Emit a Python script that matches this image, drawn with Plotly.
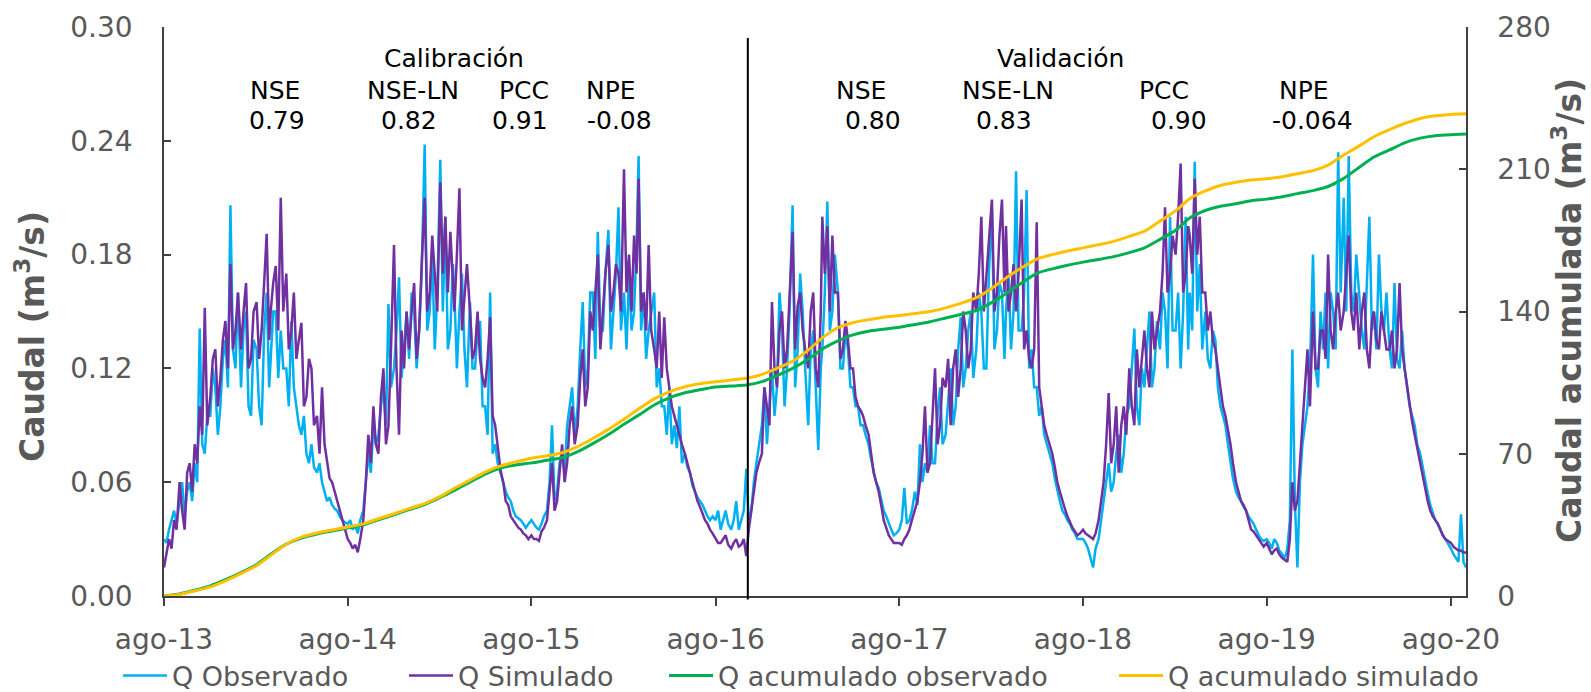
import plotly.graph_objects as go

# ---------------- data ----------------
# months Aug-2013 .. Aug-2020
months = [(2013 + (7 + i) // 12, (7 + i) % 12 + 1) for i in range(85)]
# flows read every 5 days (days 1, 6, 11, 16, 21, 26 of each month) + last day
q_dates = [f"{y}-{m:02d}-{d:02d}" for y, m in months for d in (1, 6, 11, 16, 21, 26)] + ["2020-08-31"]
cum_dates = [f"{y}-{m:02d}-01" for y, m in months] + ["2020-08-31"]

q_obs = [
    # 2013-14  (Aug .. Jul, one row per month)
    0.030, 0.028, 0.035, 0.040, 0.045, 0.038,
    0.050, 0.060, 0.042, 0.055, 0.060, 0.050,
    0.070, 0.060, 0.141, 0.080, 0.075, 0.095,
    0.095, 0.120, 0.110, 0.085, 0.100, 0.125,
    0.135, 0.110, 0.206, 0.130, 0.120, 0.160,
    0.110, 0.140, 0.150, 0.100, 0.095, 0.135,
    0.130, 0.100, 0.090, 0.140, 0.160, 0.110,
    0.125, 0.150, 0.150, 0.115, 0.140, 0.120,
    0.120, 0.100, 0.145, 0.110, 0.100, 0.090,
    0.085, 0.095, 0.075, 0.070, 0.080, 0.068,
    0.065, 0.070, 0.060, 0.055, 0.050, 0.052,
    0.048, 0.046, 0.045, 0.042, 0.040, 0.039,
    # 2014-15
    0.038, 0.040, 0.035, 0.037, 0.033, 0.040,
    0.045, 0.060, 0.075, 0.065, 0.090, 0.080,
    0.085, 0.100, 0.110, 0.090, 0.154, 0.110,
    0.120, 0.140, 0.168, 0.115, 0.130, 0.150,
    0.125, 0.160, 0.150, 0.120, 0.140, 0.170,
    0.238, 0.140, 0.150, 0.180, 0.130, 0.160,
    0.230, 0.150, 0.200, 0.130, 0.140, 0.175,
    0.160, 0.120, 0.150, 0.170, 0.130, 0.110,
    0.155, 0.120, 0.120, 0.140, 0.145, 0.100,
    0.100, 0.085, 0.160, 0.075, 0.080, 0.070,
    0.065, 0.060, 0.055, 0.052, 0.050, 0.045,
    0.042, 0.041, 0.040, 0.038, 0.036, 0.038,
    # 2015-16
    0.040, 0.038, 0.036, 0.035, 0.038, 0.042,
    0.045, 0.060, 0.090, 0.050, 0.055, 0.070,
    0.075, 0.065, 0.090, 0.100, 0.110, 0.085,
    0.100, 0.130, 0.155, 0.110, 0.120, 0.160,
    0.160, 0.125, 0.192, 0.140, 0.140, 0.170,
    0.193, 0.130, 0.150, 0.170, 0.205, 0.140,
    0.160, 0.130, 0.170, 0.140, 0.150, 0.185,
    0.232, 0.140, 0.160, 0.125, 0.140, 0.150,
    0.160, 0.110, 0.120, 0.100, 0.100, 0.085,
    0.110, 0.080, 0.090, 0.078, 0.100, 0.070,
    0.075, 0.068, 0.065, 0.058, 0.055, 0.052,
    0.050, 0.048, 0.045, 0.042, 0.040, 0.042,
    # 2016-17
    0.040, 0.045, 0.035, 0.040, 0.045, 0.038,
    0.035, 0.040, 0.050, 0.035, 0.040, 0.045,
    0.067, 0.040, 0.045, 0.060, 0.070, 0.080,
    0.090, 0.110, 0.080, 0.100, 0.120, 0.095,
    0.110, 0.160, 0.140, 0.100, 0.120, 0.150,
    0.206, 0.110, 0.130, 0.170, 0.150, 0.120,
    0.090, 0.130, 0.140, 0.110, 0.077, 0.120,
    0.130, 0.160, 0.208, 0.140, 0.150, 0.180,
    0.160, 0.120, 0.120, 0.140, 0.130, 0.110,
    0.110, 0.100, 0.100, 0.090, 0.090, 0.085,
    0.080, 0.072, 0.065, 0.060, 0.057, 0.050,
    0.045, 0.042, 0.038, 0.035, 0.032, 0.033,
    # 2017-18
    0.035, 0.040, 0.057, 0.038, 0.040, 0.045,
    0.055, 0.048, 0.080, 0.060, 0.070, 0.065,
    0.090, 0.070, 0.070, 0.095, 0.110, 0.080,
    0.085, 0.105, 0.120, 0.090, 0.100, 0.130,
    0.147, 0.110, 0.120, 0.140, 0.150, 0.115,
    0.130, 0.160, 0.150, 0.120, 0.120, 0.170,
    0.205, 0.130, 0.140, 0.165, 0.160, 0.125,
    0.150, 0.170, 0.130, 0.150, 0.224, 0.140,
    0.140, 0.160, 0.214, 0.120, 0.130, 0.110,
    0.110, 0.095, 0.100, 0.085, 0.080, 0.075,
    0.070, 0.062, 0.055, 0.050, 0.045, 0.043,
    0.040, 0.038, 0.035, 0.033, 0.030, 0.030,
    # 2018-19
    0.030, 0.028, 0.025, 0.020, 0.015, 0.025,
    0.030, 0.040, 0.050, 0.060, 0.070, 0.055,
    0.060, 0.075, 0.085, 0.065, 0.075, 0.095,
    0.100, 0.120, 0.141, 0.100, 0.090, 0.120,
    0.110, 0.130, 0.150, 0.110, 0.120, 0.145,
    0.130, 0.160, 0.150, 0.120, 0.200, 0.140,
    0.140, 0.160, 0.120, 0.150, 0.200, 0.130,
    0.160, 0.140, 0.229, 0.150, 0.175, 0.130,
    0.150, 0.125, 0.120, 0.140, 0.135, 0.110,
    0.100, 0.095, 0.090, 0.080, 0.070, 0.062,
    0.055, 0.052, 0.050, 0.047, 0.045, 0.042,
    0.040, 0.038, 0.035, 0.032, 0.030, 0.029,
    # 2019-20
    0.030, 0.028, 0.025, 0.030, 0.028, 0.024,
    0.022, 0.020, 0.025, 0.040, 0.130, 0.050,
    0.015, 0.060, 0.080, 0.090, 0.100, 0.120,
    0.180, 0.120, 0.110, 0.150, 0.130, 0.160,
    0.120, 0.160, 0.150, 0.130, 0.234, 0.160,
    0.210, 0.150, 0.232, 0.160, 0.150, 0.180,
    0.160, 0.140, 0.130, 0.170, 0.200, 0.140,
    0.150, 0.130, 0.180, 0.150, 0.140, 0.160,
    0.130, 0.120, 0.165, 0.125, 0.120, 0.140,
    0.120, 0.110, 0.100, 0.095, 0.090, 0.080,
    0.075, 0.068, 0.060, 0.054, 0.048, 0.044,
    0.040, 0.038, 0.035, 0.032, 0.030, 0.028,
    # Aug 2020
    0.025, 0.022, 0.020, 0.018, 0.043, 0.018, 0.015,
]

q_sim = [
    # 2013-14
    0.015, 0.022, 0.030, 0.025, 0.040, 0.035,
    0.060, 0.045, 0.035, 0.065, 0.070, 0.055,
    0.080, 0.070, 0.100, 0.085, 0.152, 0.090,
    0.105, 0.125, 0.130, 0.100, 0.115, 0.135,
    0.145, 0.120, 0.175, 0.130, 0.140, 0.160,
    0.130, 0.150, 0.165, 0.120, 0.125, 0.150,
    0.155, 0.125, 0.140, 0.165, 0.191, 0.135,
    0.150, 0.165, 0.174, 0.140, 0.210, 0.150,
    0.170, 0.130, 0.140, 0.160, 0.125, 0.135,
    0.144, 0.100, 0.105, 0.125, 0.120, 0.090,
    0.095, 0.075, 0.110, 0.080, 0.070, 0.062,
    0.060, 0.055, 0.050, 0.045, 0.040, 0.035,
    # 2014-15
    0.030, 0.028, 0.025, 0.027, 0.023, 0.030,
    0.040, 0.060, 0.085, 0.070, 0.100, 0.080,
    0.075, 0.105, 0.120, 0.080, 0.090, 0.130,
    0.185, 0.120, 0.085, 0.140, 0.120, 0.150,
    0.130, 0.150, 0.165, 0.125, 0.140, 0.175,
    0.210, 0.150, 0.160, 0.190, 0.170, 0.150,
    0.218, 0.170, 0.200, 0.160, 0.192, 0.165,
    0.150, 0.180, 0.215, 0.140, 0.160, 0.175,
    0.150, 0.125, 0.130, 0.150, 0.125, 0.115,
    0.110, 0.125, 0.147, 0.095, 0.090, 0.080,
    0.066, 0.060, 0.050, 0.048, 0.042, 0.040,
    0.038, 0.036, 0.035, 0.033, 0.032, 0.030,
    # 2015-16
    0.032, 0.030, 0.030, 0.029, 0.034, 0.036,
    0.040, 0.055, 0.070, 0.045, 0.050, 0.065,
    0.080, 0.060, 0.070, 0.090, 0.100, 0.080,
    0.090, 0.115, 0.130, 0.100, 0.110, 0.150,
    0.140, 0.160, 0.180, 0.130, 0.150, 0.170,
    0.185, 0.150, 0.160, 0.175, 0.170, 0.150,
    0.225, 0.160, 0.180, 0.150, 0.190, 0.170,
    0.220, 0.150, 0.160, 0.140, 0.185, 0.140,
    0.130, 0.120, 0.150, 0.115, 0.147, 0.120,
    0.110, 0.100, 0.095, 0.090, 0.084, 0.080,
    0.075, 0.070, 0.065, 0.060, 0.055, 0.050,
    0.047, 0.043, 0.040, 0.038, 0.035, 0.033,
    # 2016-17
    0.030, 0.028, 0.028, 0.030, 0.032, 0.027,
    0.025, 0.028, 0.030, 0.026, 0.027, 0.030,
    0.021, 0.035, 0.045, 0.055, 0.065, 0.070,
    0.075, 0.110, 0.100, 0.090, 0.155, 0.120,
    0.110, 0.140, 0.150, 0.120, 0.130, 0.160,
    0.192, 0.130, 0.153, 0.160, 0.140, 0.130,
    0.120, 0.150, 0.160, 0.120, 0.110, 0.150,
    0.200, 0.170, 0.195, 0.150, 0.190, 0.160,
    0.160, 0.125, 0.130, 0.145, 0.135, 0.120,
    0.120, 0.105, 0.100, 0.098, 0.095, 0.090,
    0.085, 0.075, 0.065, 0.060, 0.055, 0.048,
    0.040, 0.036, 0.032, 0.030, 0.028, 0.028,
    # 2017-18
    0.028, 0.027, 0.030, 0.032, 0.035, 0.040,
    0.045, 0.050, 0.060, 0.075, 0.100, 0.065,
    0.070, 0.095, 0.120, 0.080, 0.090, 0.115,
    0.110, 0.125, 0.090, 0.120, 0.130, 0.105,
    0.120, 0.150, 0.140, 0.120, 0.130, 0.160,
    0.150, 0.170, 0.200, 0.150, 0.170, 0.185,
    0.209, 0.150, 0.160, 0.190, 0.209, 0.160,
    0.195, 0.150, 0.160, 0.175, 0.150, 0.170,
    0.209, 0.130, 0.140, 0.125, 0.120, 0.130,
    0.197, 0.110, 0.100, 0.090, 0.085, 0.080,
    0.075, 0.068, 0.060, 0.055, 0.050, 0.046,
    0.042, 0.039, 0.036, 0.034, 0.032, 0.033,
    # 2018-19
    0.035, 0.033, 0.032, 0.031, 0.030, 0.033,
    0.040, 0.050, 0.060, 0.080, 0.107, 0.070,
    0.080, 0.100, 0.065, 0.090, 0.100, 0.085,
    0.120, 0.100, 0.090, 0.130, 0.110, 0.125,
    0.140, 0.120, 0.110, 0.150, 0.130, 0.140,
    0.150, 0.170, 0.205, 0.160, 0.170, 0.190,
    0.180, 0.200, 0.228, 0.160, 0.170, 0.195,
    0.190, 0.170, 0.220, 0.180, 0.200, 0.160,
    0.160, 0.140, 0.150, 0.135, 0.130, 0.120,
    0.110, 0.100, 0.095, 0.088, 0.080, 0.070,
    0.060, 0.055, 0.050, 0.048, 0.045, 0.040,
    0.035, 0.034, 0.032, 0.030, 0.028, 0.026,
    # 2019-20
    0.028, 0.025, 0.022, 0.024, 0.025, 0.022,
    0.020, 0.019, 0.018, 0.030, 0.060, 0.045,
    0.050, 0.070, 0.090, 0.110, 0.130, 0.100,
    0.150, 0.120, 0.120, 0.140, 0.140, 0.125,
    0.180, 0.140, 0.130, 0.150, 0.160, 0.140,
    0.150, 0.170, 0.190, 0.150, 0.140, 0.160,
    0.130, 0.150, 0.160, 0.130, 0.120, 0.145,
    0.150, 0.135, 0.130, 0.150, 0.140, 0.130,
    0.130, 0.140, 0.120, 0.130, 0.165, 0.130,
    0.120, 0.110, 0.100, 0.092, 0.085, 0.078,
    0.070, 0.062, 0.055, 0.050, 0.045, 0.042,
    0.040, 0.038, 0.035, 0.032, 0.030, 0.029,
    # Aug 2020
    0.028, 0.026, 0.025, 0.024, 0.024, 0.023, 0.023,
]

cum_obs = [
    0, 1.0, 2.8, 5.0, 8.0,
    11.5, 15.5, 20.5, 25.5, 28.5, 30.5, 32, 33.5, 35, 37.5, 40, 42.5,
    45, 48.5, 52, 56, 60, 63, 64.5, 65.5, 66.8, 68, 71, 75,
    79.5, 84.5, 89, 94, 97.5, 100, 101.5, 102.8, 103.3, 103.8, 105.5, 108.5,
    112, 116.5, 121.5, 125.5, 128.5, 130.3, 131.3, 132.2, 133.6, 135, 136.8, 138.5,
    140.5, 144.5, 148.7, 154, 158.8, 161, 162.8, 164.3, 165.6, 167, 169, 171.3,
    175.5, 180, 186, 189.7, 191.8, 193, 194.5, 195.3, 196.5, 198, 199.5, 201.5,
    205.5, 211, 216, 219.5, 223, 225.3, 226.5, 227, 227.3,
]

cum_sim = [
    0, 0.8, 2.5, 4.5, 7.5,
    11, 15, 20, 25.5, 29, 31, 32.5, 34, 35.5, 38, 40.5, 43,
    45.5, 49, 53, 57, 61, 64, 66, 67.8, 69, 70.5, 73.5, 77.5,
    82, 87, 92, 97, 100.5, 103, 104.5, 105.4, 106.3, 107.2, 109, 112,
    115.5, 121, 127, 132, 134.5, 136, 137.2, 138, 139, 140, 141.8, 144,
    146.8, 151.5, 156.5, 161.5, 165.8, 168, 169.8, 171.3, 172.9, 174.5, 177, 179.5,
    184.5, 189.5, 195.5, 199.3, 202, 203.6, 204.7, 205.3, 206.3, 207.8, 209.3, 212,
    217, 221.5, 226, 229.5, 232.5, 235, 236.3, 237, 237.3,
]

tick_dates = [f"{y}-08-01" for y in range(2013, 2021)]
tick_text = ["ago-13", "ago-14", "ago-15", "ago-16", "ago-17", "ago-18", "ago-19", "ago-20"]
split_date = "2016-10-04"

metric_names = ["NSE", "NSE-LN", "PCC", "NPE"]
calib_values = ["0.79", "0.82", "0.91", "-0.08"]
valid_values = ["0.80", "0.83", "0.90", "-0.064"]

# ---------------- layout helpers ----------------
W, H = 1591, 692
L, R, T, B = 164, 125, 27, 96
PW, PH = W - L - R, H - T - B


def px(x):
    return (x - L) / PW


def py(y):
    return (H - B - y) / PH


FONT = "DejaVu Sans"
GREY = "#595959"
AX = "#404040"

fig = go.Figure()
fig.add_trace(go.Scatter(x=q_dates, y=q_obs, name="Q Observado", mode="lines",
                         line=dict(color="#00B0F0", width=2.5), legend="legend"))
fig.add_trace(go.Scatter(x=q_dates, y=q_sim, name="Q Simulado", mode="lines",
                         line=dict(color="#7030A0", width=2.5), legend="legend2"))
fig.add_trace(go.Scatter(x=cum_dates, y=cum_obs, name="Q acumulado observado", mode="lines",
                         line=dict(color="#00B050", width=3, shape="spline", smoothing=0.6),
                         yaxis="y2", legend="legend3"))
fig.add_trace(go.Scatter(x=cum_dates, y=cum_sim, name="Q acumulado simulado", mode="lines",
                         line=dict(color="#FFC000", width=3, shape="spline", smoothing=0.6),
                         yaxis="y2", legend="legend4"))

ITEMW = 44
leg_common = dict(orientation="h", xanchor="left", yanchor="middle", y=py(676),
                  font=dict(family=FONT, size=27, color=GREY), bgcolor="rgba(0,0,0,0)",
                  itemwidth=ITEMW)
text_starts = [174, 460, 720, 1170]

annotations = []
# axis titles
annotations.append(dict(text="<b>Caudal (m<sup>3</sup>/s)</b>", x=px(30), y=py(337),
                        xref="paper", yref="paper", xanchor="center", yanchor="middle",
                        showarrow=False, textangle=-90,
                        font=dict(family=FONT, size=33, color=GREY)))
annotations.append(dict(text="<b>Caudal acumulada (m<sup>3</sup>/s)</b>", x=px(1567), y=py(311),
                        xref="paper", yref="paper", xanchor="center", yanchor="middle",
                        showarrow=False, textangle=-90,
                        font=dict(family=FONT, size=33, color=GREY)))

ann_font = dict(family=FONT, size=25, color="black")
for txt, cx in (("Calibración", 454), ("Validación", 1060)):
    annotations.append(dict(text=txt, x=px(cx), y=py(58), xref="paper", yref="paper",
                            xanchor="center", yanchor="middle", showarrow=False, font=ann_font))
calib_name_x = [275, 413, 524, 611]
calib_val_x = [277, 409, 520, 619]
valid_name_x = [861, 1008, 1164, 1304]
valid_val_x = [873, 1004, 1179, 1312]
for names_x, vals_x, vals in ((calib_name_x, calib_val_x, calib_values),
                              (valid_name_x, valid_val_x, valid_values)):
    for nm, v, nx, vx in zip(metric_names, vals, names_x, vals_x):
        annotations.append(dict(text=nm, x=px(nx), y=py(91), xref="paper", yref="paper",
                                xanchor="center", yanchor="middle", showarrow=False, font=ann_font))
        annotations.append(dict(text=v, x=px(vx), y=py(120), xref="paper", yref="paper",
                                xanchor="center", yanchor="middle", showarrow=False, font=ann_font))

fig.update_layout(
    width=W, height=H, autosize=False,
    margin=dict(l=L, r=R, t=T, b=B, pad=0, autoexpand=False),
    paper_bgcolor="white", plot_bgcolor="white",
    font=dict(family=FONT, color=GREY),
    showlegend=True,
    legend=dict(leg_common, x=px(text_starts[0] - ITEMW - 12)),
    legend2=dict(leg_common, x=px(text_starts[1] - ITEMW - 12)),
    legend3=dict(leg_common, x=px(text_starts[2] - ITEMW - 12)),
    legend4=dict(leg_common, x=px(text_starts[3] - ITEMW - 12)),
    xaxis=dict(type="date", range=["2013-08-01", "2020-08-31"], tickvals=tick_dates,
               ticktext=tick_text, ticks="outside", ticklen=8, tickwidth=1.5, tickcolor=AX,
               showline=True, linecolor=AX, linewidth=1.5, showgrid=False, zeroline=False,
               ticklabelstandoff=10, automargin=False,
               tickfont=dict(family=FONT, size=28, color=GREY)),
    yaxis=dict(range=[0, 0.30], tickvals=[0, 0.06, 0.12, 0.18, 0.24, 0.30], tickformat=".2f",
               ticks="inside", ticklen=7, tickwidth=1.5, tickcolor=AX, showline=True,
               linecolor=AX, linewidth=1.5, showgrid=False, zeroline=False, automargin=False,
               ticklabelstandoff=24, tickfont=dict(family=FONT, size=28, color=GREY)),
    yaxis2=dict(range=[0, 280], tickvals=[0, 70, 140, 210, 280], overlaying="y", side="right",
                ticks="inside", ticklen=7, tickwidth=1.5, tickcolor=AX, showline=True,
                linecolor=AX, linewidth=1.5, showgrid=False, zeroline=False, automargin=False,
                ticklabelstandoff=24, tickfont=dict(family=FONT, size=28, color=GREY)),
    annotations=annotations,
    shapes=[dict(type="line", xref="x", yref="paper", x0=split_date, x1=split_date,
                 y0=-0.006, y1=py(38), line=dict(color="black", width=2))],
)

fig.write_html("out.html")
